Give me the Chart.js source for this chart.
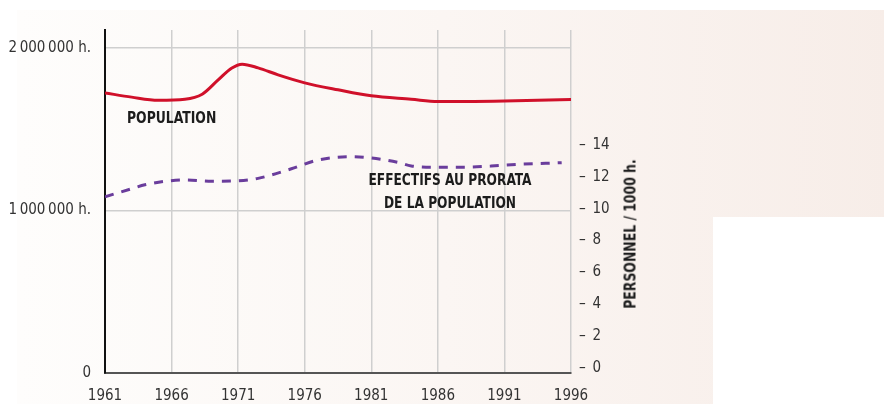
<!DOCTYPE html>
<html>
<head>
<meta charset="utf-8">
<script src="https://cdn.jsdelivr.net/npm/chart.js@4.4.1/dist/chart.umd.min.js"></script>
<style>
  html, body { margin:0; padding:0; background:#fff; }
  #wrap { position:relative; width:889px; height:404px; }
  #panel {
    position:absolute; left:0; top:0; width:889px; height:404px;
    background:linear-gradient(to right, #fefdfc 2%, #fbf6f3 50%, #f7ede8 100%);
    clip-path:polygon(17px 10px, 884px 10px, 884px 217px, 713px 217px, 713px 404px, 17px 404px);
  }
  #chart { position:absolute; left:0; top:0; }
  .lbl {
    position:absolute; font-family:"Liberation Sans Narrow","DejaVu Sans Condensed",sans-serif;
    font-weight:bold; font-size:15px; color:#1c1c1c; white-space:nowrap; line-height:1;
  }
</style>
</head>
<body>
<div id="wrap">
  <div id="panel"></div>
  <canvas id="chart" width="889" height="404"></canvas>
  <div class="lbl" style="left:127px; top:111px; transform:scaleX(0.92); transform-origin:left center;">POPULATION</div>
  <div class="lbl" style="left:450px; top:169px; transform:translateX(-50%) scaleX(0.905); text-align:center; line-height:23px;">EFFECTIFS AU PRORATA<br>DE LA POPULATION</div>
  <div class="lbl" style="left:631px; top:234px; transform:translate(-50%,-50%) rotate(-90deg) scaleX(0.92);">PERSONNEL / 1000 h.</div>
</div>
<script>
// population (persons)
const popYears = [1961, 1963, 1965, 1967, 1968.3, 1969.5, 1970.5, 1971.3, 1972.5, 1974, 1976, 1978.5, 1981, 1984, 1986, 1991, 1996];
const popValues = [1723000, 1697000, 1678000, 1684000, 1715000, 1803000, 1875000, 1900000, 1877000, 1834000, 1785000, 1742000, 1705000, 1684000, 1670000, 1674000, 1682000];

// staff per 1000 inhabitants
const staffYears = [1961, 1963, 1964, 1967, 1969, 1971, 1972.5, 1975, 1977, 1979.5, 1981, 1983, 1984, 1986, 1988, 1990, 1992, 1995.3];
const staffValues = [10.75, 11.25, 11.5, 11.8, 11.72, 11.75, 11.9, 12.5, 13.05, 13.26, 13.18, 12.9, 12.68, 12.6, 12.6, 12.67, 12.78, 12.88];

const leftTicks = [0, 1000000, 2000000];
const leftTickLabels = ['0', '1\u2009000\u2009000 h.', '2\u2009000\u2009000 h.'];
const rightTicks = [0, 2, 4, 6, 8, 10, 12, 14];

const tickFont = { family: '"Liberation Sans Narrow","DejaVu Sans Condensed",sans-serif', size: 15 };

const data = {
  datasets: [{
    label: 'POPULATION',
    data: popYears.map((x, i) => ({ x: x, y: popValues[i] })),
    borderColor: '#d0102a',
    borderWidth: 3,
    pointRadius: 0,
    cubicInterpolationMode: 'monotone',
    yAxisID: 'y'
  },
  {
    label: 'EFFECTIFS AU PRORATA DE LA POPULATION',
    data: staffYears.map((x, i) => ({ x: x, y: staffValues[i] })),
    borderColor: '#6a3d9c',
    borderWidth: 3,
    borderDash: [9, 8],
    pointRadius: 0,
    cubicInterpolationMode: 'monotone',
    yAxisID: 'y2'
  }]
};

const options = {
  responsive: false,
  animation: false,
  layout: { padding: { top: 30, left: 0, right: 0, bottom: 0 } },
  plugins: { legend: { display: false }, tooltip: { enabled: false } },
  scales: {
    x: {
      type: 'linear', min: 1961, max: 1996,
      ticks: { stepSize: 5, padding: 14, color: '#333', font: tickFont, callback: v => String(v) },
      grid: { color: '#cfcfcf', lineWidth: 1.5, drawTicks: false },
      border: { color: '#555', width: 2 },
      afterFit: s => { s.height = 31; }
    },
    y: {
      position: 'left', min: 0, max: 2110000,
      afterBuildTicks: s => { s.ticks = leftTicks.map(v => ({ value: v })); },
      ticks: { padding: 14, color: '#333', font: tickFont,
        callback: v => leftTickLabels[leftTicks.indexOf(v)] },
      grid: { color: '#cfcfcf', lineWidth: 1.5, drawTicks: false },
      border: { color: '#111', width: 2 },
      afterFit: s => { s.width = 105; }
    },
    y2: {
      position: 'right', min: -0.3, max: 21.2,
      afterBuildTicks: s => { s.ticks = rightTicks.map(v => ({ value: v })); },
      ticks: { padding: 0, color: '#333', font: tickFont, callback: v => '\u2013\u2002' + v },
      grid: { display: false },
      border: { display: false },
      afterFit: s => { s.width = 318; }
    }
  }
};

const myChart = new Chart(document.getElementById('chart').getContext('2d'), {
  type: 'line',
  data: data,
  options: options
});
</script>
</body>
</html>
